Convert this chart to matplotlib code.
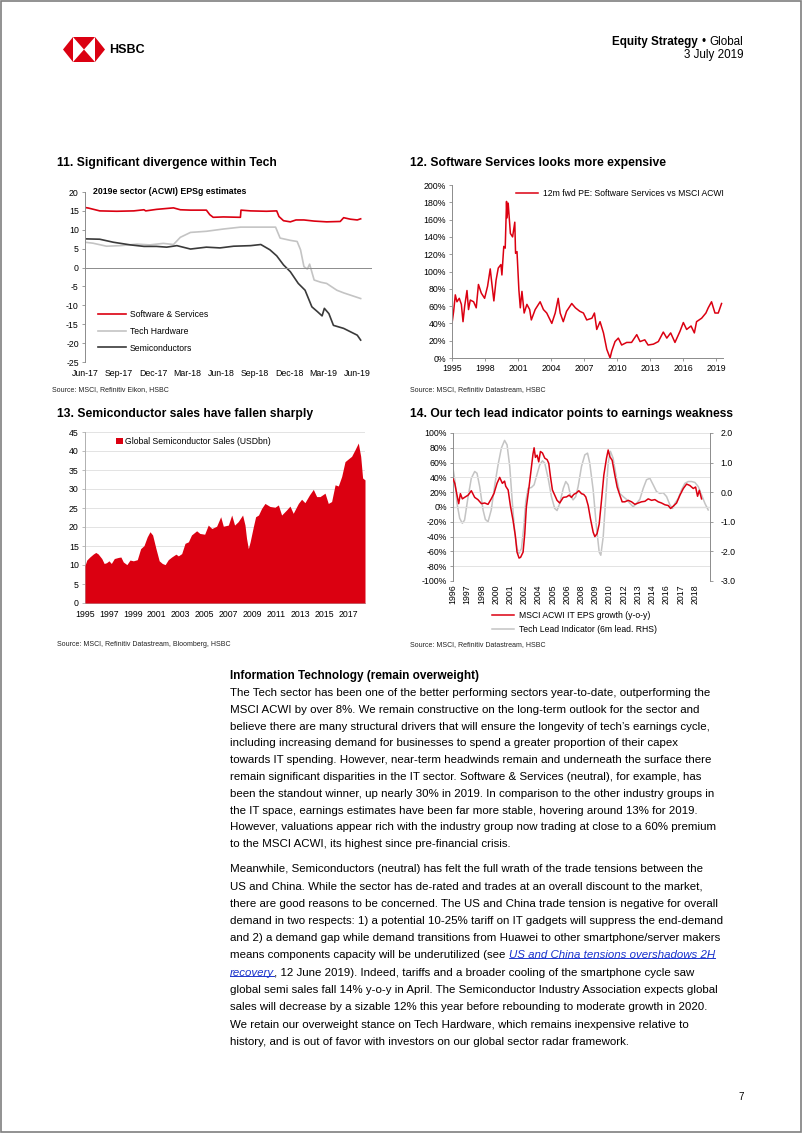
import matplotlib
matplotlib.use('Agg')
import matplotlib.pyplot as plt
from matplotlib.patches import Polygon, Rectangle
from matplotlib.lines import Line2D
from matplotlib.text import Annotation

W, H = 802, 1133
plt.rcParams['font.family'] = ['Liberation Sans', 'DejaVu Sans']
plt.rcParams['axes.linewidth'] = 0.7
plt.rcParams['axes.unicode_minus'] = False

RED = '#DB0011'
LGREY = '#C4C4C4'
DGREY = '#3A3A3A'
AXC = '#8C8C8C'
GRID = '#E3E3E3'

# ---- chart 11: 2019e EPSg estimates (months since Jun-17)
c11_ticks = ['Jun-17', 'Sep-17', 'Dec-17', 'Mar-18', 'Jun-18', 'Sep-18', 'Dec-18', 'Mar-19', 'Jun-19']
sw_x = [0, 0.3, 1.3, 2.8, 4.3, 5.2, 5.35, 6.3, 7.8, 8.4, 9.3, 10.7, 11.0, 11.3, 12.2, 13.7, 13.75,
        14.6, 16.0, 16.9, 17.1, 17.5, 18.1, 18.6, 19.3, 20.2, 21.3, 22.5, 22.8, 23.4, 24.0, 24.3]
sw_y = [15.9, 15.75, 15.0, 14.9, 15.0, 15.3, 15.0, 15.4, 15.8, 15.3, 15.2, 15.2, 14.0, 13.3, 13.4, 13.3, 15.2,
        15.0, 14.9, 15.0, 13.5, 12.4, 12.1, 12.6, 12.6, 12.3, 12.1, 12.2, 13.2, 12.8, 12.6, 12.9]
hw_x = [0, 0.7, 1.9, 3.1, 4.6, 5.7, 6.9, 7.8, 8.4, 9.3, 10.7, 12.2, 13.7, 15.2, 16.8, 17.2, 18.1, 18.7,
        19.0, 19.3, 19.6, 19.8, 20.2, 20.8, 21.3, 22.2, 22.8, 23.4, 24.3]
hw_y = [6.7, 6.45, 5.65, 5.8, 6.2, 6.0, 6.4, 6.1, 8.0, 9.3, 9.6, 10.2, 10.7, 10.7, 10.7, 7.8, 7.2, 6.9,
        4.7, 0.25, -0.4, 0.9, -3.3, -3.9, -4.2, -6.0, -6.7, -7.3, -8.2]
sc_x = [0, 1.3, 2.5, 4.0, 5.2, 6.3, 7.2, 8.1, 9.3, 10.7, 11.9, 13.1, 14.6, 15.5, 16.3, 16.9, 17.5, 18.1,
        18.8, 19.4, 20.0, 20.5, 20.9, 21.1, 21.5, 21.9, 22.8, 23.4, 24.0, 24.3]
sc_y = [7.6, 7.5, 6.7, 6.0, 5.6, 5.6, 5.4, 5.8, 4.9, 5.4, 5.2, 5.65, 5.8, 6.1, 4.7, 3.1, 0.7, -1.1,
        -4.2, -6.0, -10.4, -11.7, -12.8, -10.8, -12.2, -15.3, -16.1, -17.0, -17.9, -19.2]

# ---- chart 12: 12m fwd PE relative (%)
pe_x = [1995.0, 1995.15, 1995.3, 1995.45, 1995.66, 1995.85, 1996.0, 1996.15, 1996.36, 1996.5, 1996.66,
        1996.96, 1997.2, 1997.4, 1997.66, 1997.96, 1998.23, 1998.47, 1998.6, 1998.8, 1999.0, 1999.2,
        1999.44, 1999.53, 1999.7, 1999.83, 1999.95, 2000.0, 2000.1, 2000.3, 2000.5, 2000.7, 2000.77,
        2000.9, 2001.07, 2001.2, 2001.35, 2001.55, 2001.8, 2002.05, 2002.2, 2002.55, 2003.0, 2003.3,
        2003.6, 2004.06, 2004.37, 2004.64, 2004.82, 2005.1, 2005.4, 2005.87, 2006.2, 2006.6, 2006.93,
        2007.23, 2007.7, 2007.93, 2008.14, 2008.44, 2008.75, 2009.05, 2009.35, 2009.5, 2009.8, 2010.1,
        2010.4, 2010.86, 2011.3, 2011.77, 2012.07, 2012.5, 2012.8, 2013.28, 2013.73, 2014.18, 2014.5,
        2014.85, 2015.24, 2015.7, 2016.0, 2016.3, 2016.7, 2017.0, 2017.2, 2017.66, 2018.05, 2018.26,
        2018.56, 2018.87, 2019.17, 2019.47]
pe_y = [40, 54, 73, 65, 69, 62, 42, 60, 78, 56, 67, 65, 58, 85, 75, 69, 83, 103, 88, 66, 90, 104,
        108, 96, 129, 127, 181, 162, 179, 144, 140, 157, 121, 123, 79, 58, 77, 52, 62, 56, 44, 56, 65,
        56, 52, 40, 52, 69, 52, 42, 54, 63, 58, 54, 52, 44, 46, 52, 33, 42, 29, 10, 0, 8, 19, 23, 15,
        18, 18, 27, 19, 21, 15, 16, 19, 30, 23, 29, 18, 31, 41, 33, 37, 29, 42, 46, 52, 58, 65, 52, 52, 63]

# ---- chart 13: Global semiconductor sales (USDbn)
semi_x = [1995.0, 1995.15, 1995.4, 1995.7, 1995.9, 1996.1, 1996.4, 1996.6, 1996.8, 1997.0, 1997.2,
          1997.45, 1997.8, 1998.0, 1998.2, 1998.5, 1998.76, 1999.04, 1999.37, 1999.65, 1999.93, 2000.2,
          2000.43, 2000.65, 2000.93, 2001.2, 2001.46, 2001.7, 2001.96, 2002.24, 2002.6, 2002.8, 2003.08,
          2003.36, 2003.64, 2003.9, 2004.33, 2004.6, 2005.0, 2005.3, 2005.6, 2006.0, 2006.34, 2006.56,
          2006.98, 2007.26, 2007.5, 2007.8, 2008.17, 2008.37, 2008.5, 2008.65, 2008.8, 2009.07, 2009.26,
          2009.5, 2009.76, 2010.04, 2010.46, 2010.88, 2011.16, 2011.43, 2011.85, 2012.13, 2012.4,
          2012.83, 2013.1, 2013.38, 2013.75, 2014.08, 2014.36, 2014.64, 2015.06, 2015.33, 2015.61,
          2015.9, 2016.17, 2016.45, 2016.73, 2017.0, 2017.28, 2017.56, 2017.84, 2018.04, 2018.2, 2018.4]
semi_y = [9.9, 11.3, 12.1, 12.9, 13.3, 12.9, 11.7, 10.4, 10.6, 11.1, 10.4, 11.7, 12.0, 12.1, 10.8,
          10.1, 11.3, 11.1, 11.4, 14.3, 15.1, 17.4, 18.75, 17.9, 14.3, 11.1, 10.4, 10.1, 11.4, 12.1,
          12.85, 12.4, 13.0, 15.7, 16.1, 17.9, 19.0, 18.3, 18.1, 20.5, 19.6, 20.2, 22.7, 20.2, 20.5,
          23.15, 20.5, 21.4, 23.15, 20.5, 17.0, 14.3, 16.1, 20.1, 22.7, 23.15, 24.9, 26.2, 25.4, 25.2,
          25.8, 23.15, 24.5, 25.5, 23.6, 26.2, 27.3, 26.4, 28.4, 29.9, 28.0, 28.0, 28.9, 26.2, 26.7,
          31.1, 30.8, 33.3, 37.2, 37.9, 38.6, 40.3, 42.1, 38.6, 32.9, 32.4]

# ---- chart 14: months since Jan-1996
c14_labels = ['1996', '1997', '1998', '2000', '2001', '2002', '2004', '2005', '2006', '2008', '2009',
              '2010', '2012', '2013', '2014', '2016', '2017', '2018']
eps_t = [0, 2, 4.5, 6.4, 8.3, 10.5, 13, 17, 20.6, 24.4, 28, 32, 35.6, 39.4, 43, 46, 49.5, 52.5, 55.5,
         58, 59.3, 62, 64.5, 67.5, 70, 72, 74.3, 76, 78.8, 80.7, 82.5, 85.5, 88.2, 90, 91.2, 92.7, 94.6,
         96.4, 98.3, 100.6, 103.2, 105.8, 107.7, 109.6, 111.8, 114.4, 117, 120, 124, 127.6, 130.6,
         133.2, 135.8, 138.8, 141.5, 144.5, 147, 149.3, 152, 154.6, 157.6, 159.5, 162, 164.4, 167,
         169.6, 172.6, 174.5, 176.4, 179, 182, 184.6, 187.6, 190.2, 193.2, 197, 200.8, 204.5, 208.3,
         212, 215.8, 219.5, 223.3, 227, 230.8, 234.5, 238.3, 242, 244.7, 247.6, 251.4, 255.2, 259,
         262.7, 266.4, 270.2, 272.8, 275, 277, 279.5]
eps_y = [38, 32, 16, 4.5, 18, 11, 13, 16, 22, 13, 10, 4.5, 5.4, 3.6, 11, 18, 32, 40, 32, 35, 28, 23,
         2, -18, -38, -61, -69, -68, -61, -36, 0, 27, 54, 72, 80, 67, 70, 61, 75, 73, 66, 64, 59, 41,
         23, 16, 9, 5.4, 13, 13.6, 16, 13, 17, 19, 22, 18, 17, 13.6, 2, -16, -34, -40, -36, -23, 9,
         43, 66, 77, 68, 63, 43, 27, 16, 7, 7, 9, 7, 3.6, 5.4, 7, 7.7, 11, 9, 10, 7, 5.4, 3, 2, -2,
         1, 5.4, 16, 25, 31, 29, 25, 27, 14.5, 22.6, 11]
lead_t = [0, 2, 4.5, 7.5, 10.5, 13, 17, 20.6, 24.4, 27, 30, 33.8, 36.4, 39.4, 43, 47, 50.7, 54.4, 58,
          60.8, 63.8, 66.8, 69.4, 72, 74.3, 77, 79.6, 81.8, 84.4, 88.2, 91.2, 93.8, 97.6, 100.6, 103.2,
          107, 110.7, 114.4, 117, 120, 124, 126.8, 129.5, 132, 135, 138, 140.7, 144.5, 148.2, 151.3,
          153.8, 157.6, 161.3, 164.4, 166.2, 168.9, 171.9, 174.5, 177, 180, 183.9, 187.6, 191.4, 195,
          199, 202.6, 206.4, 210.1, 213.9, 217.6, 221.4, 225.1, 228.9, 232.6, 236.4, 240.2, 243.9,
          246.9, 249.5, 253.3, 257, 260.8, 264.5, 268.3, 272, 275.8, 279.5, 283.3, 287]
lead_y = [0.81, 0.42, -0.38, -0.88, -1.05, -0.94, -0.15, 0.47, 0.70, 0.64, 0.19, -0.60, -0.92, -1.0,
          -0.6, 0.25, 0.93, 1.49, 1.75, 1.6, 0.87, -0.38, -1.34, -1.90, -2.07, -1.90, -1.17, -0.32, 0.13,
          0.16, 0.25, 0.53, 0.93, 1.06, 0.98, 0.47, -0.15, -0.55, -0.62, -0.38, 0.13, 0.36, 0.25, -0.09,
          -0.26, -0.15, 0.19, 0.87, 1.26, 1.32, 0.98, 0.08, -1.17, -2.02, -2.13, -1.51, -0.15, 0.98,
          1.38, 1.15, 0.47, -0.04, -0.15, -0.24, -0.38, -0.49, -0.38, -0.24, 0.13, 0.42, 0.47, 0.25,
          0.02, -0.04, -0.02, -0.15, -0.43, -0.55, -0.38, -0.21, 0.08, 0.30, 0.36, 0.36, 0.33, 0.19,
          -0.09, -0.38, -0.60]

para1 = [
    "The Tech sector has been one of the better performing sectors year-to-date, outperforming the",
    "MSCI ACWI by over 8%. We remain constructive on the long-term outlook for the sector and",
    "believe there are many structural drivers that will ensure the longevity of tech\u2019s earnings cycle,",
    "including increasing demand for businesses to spend a greater proportion of their capex",
    "towards IT spending. However, near-term headwinds remain and underneath the surface there",
    "remain significant disparities in the IT sector. Software & Services (neutral), for example, has",
    "been the standout winner, up nearly 30% in 2019. In comparison to the other industry groups in",
    "the IT space, earnings estimates have been far more stable, hovering around 13% for 2019.",
    "However, valuations appear rich with the industry group now trading at close to a 60% premium",
    "to the MSCI ACWI, its highest since pre-financial crisis.",
]
para2 = [
    "Meanwhile, Semiconductors (neutral) has felt the full wrath of the trade tensions between the",
    "US and China. While the sector has de-rated and trades at an overall discount to the market,",
    "there are good reasons to be concerned. The US and China trade tension is negative for overall",
    "demand in two respects: 1) a potential 10-25% tariff on IT gadgets will suppress the end-demand",
    "and 2) a demand gap while demand transitions from Huawei to other smartphone/server makers",
    [("means components capacity will be underutilized (see ", False),
     ("US and China tensions overshadows 2H", True)],
    [("recovery", True),
     (", 12 June 2019). Indeed, tariffs and a broader cooling of the smartphone cycle saw", False)],
    "global semi sales fall 14% y-o-y in April. The Semiconductor Industry Association expects global",
    "sales will decrease by a sizable 12% this year before rebounding to moderate growth in 2020.",
    "We retain our overweight stance on Tech Hardware, which remains inexpensive relative to",
    "history, and is out of favor with investors on our global sector radar framework.",
]


def rect(l, t, r, b):
    return [l / W, 1 - b / H, (r - l) / W, (b - t) / H]


def fx(x):
    return x / W


def fy(y):
    return 1 - y / H


fig = plt.figure(figsize=(W / 100, H / 100), dpi=100)
TICK = 6.3

# page frame
fig.patches.append(Rectangle((0.5 / W, 1 - 1131.5 / H), 800 / W, 1131 / H, transform=fig.transFigure,
                             fill=False, edgecolor='#7F7F7F', linewidth=1.2))

# HSBC logo
def P(pts):
    return [(fx(a), fy(b)) for a, b in pts]
for pts in ([(63, 49.5), (73, 37), (73, 62)], [(105, 49.5), (95, 37), (95, 62)],
            [(73, 37), (95, 37), (84, 49.5)], [(73, 62), (95, 62), (84, 49.5)]):
    fig.patches.append(Polygon(P(pts), closed=True, transform=fig.transFigure, facecolor=RED,
                               edgecolor='none'))
fig.text(fx(109), fy(50), 'HSBC', fontsize=9.0, fontweight='bold', va='center', ha='left')

# header
g = fig.text(fx(743), fy(42), 'Global', fontsize=8.4, ha='right', va='center')
b = fig.add_artist(Annotation('\u2022', xy=(0, 0), xycoords=g, xytext=(-2.5, 0),
                              textcoords='offset points', ha='right', va='bottom', fontsize=8.4))
fig.add_artist(Annotation('Equity Strategy', xy=(0, 0), xycoords=b, xytext=(-2.5, 0),
                          textcoords='offset points', ha='right', va='bottom', fontsize=8.4,
                          fontweight='bold'))
fig.text(fx(743), fy(55), '3 July 2019', fontsize=8.4, ha='right', va='center')

TITLE = dict(fontsize=8.7, fontweight='bold', va='center', ha='left')
SRC = dict(fontsize=5.0, va='center', ha='left', color='#222222')


def style(ax, left_color=AXC):
    for s in ['top', 'right', 'bottom']:
        ax.spines[s].set_visible(False)
    ax.spines['left'].set_color(left_color)
    ax.tick_params(axis='y', length=2.5, width=0.6, color=left_color, labelsize=TICK, pad=2)
    ax.tick_params(axis='x', length=0, labelsize=TICK, pad=5)


# ---------------- chart 11
fig.text(fx(57), fy(163), '11. Significant divergence within Tech', **TITLE)
ax = fig.add_axes(rect(85, 192, 372, 362))
ax.plot(hw_x, hw_y, color=LGREY, lw=1.2, label='Tech Hardware')
ax.plot(sc_x, sc_y, color=DGREY, lw=1.2, label='Semiconductors')
ax.plot(sw_x, sw_y, color=RED, lw=1.2, label='Software & Services')
ax.axhline(0, color=AXC, lw=0.7)
ax.set_xlim(0, 25.3)
ax.set_ylim(-25, 20)
ax.set_yticks(range(-25, 21, 5))
ax.set_xticks(range(0, 25, 3))
ax.set_xticklabels(c11_ticks)
style(ax)
fig.text(fx(93), fy(191), '2019e sector (ACWI) EPSg estimates', fontsize=6.3, fontweight='bold',
         va='center')
h, l = ax.get_legend_handles_labels()
ax.legend([h[2], h[0], h[1]], [l[2], l[0], l[1]], loc='upper left',
          bbox_to_anchor=(fx(98), fy(310)), bbox_transform=fig.transFigure, frameon=False,
          fontsize=6.2, handlelength=3.2, handletextpad=0.5, labelspacing=0.9, borderpad=0,
          borderaxespad=0)
fig.text(fx(52), fy(390), 'Source: MSCI, Refinitiv Eikon, HSBC', **SRC)

# ---------------- chart 12
fig.text(fx(410), fy(163), '12. Software Services looks more expensive', **TITLE)
ax = fig.add_axes(rect(452, 185, 723, 358))
ax.plot(pe_x, pe_y, color=RED, lw=1.1, label='12m fwd PE: Software Services vs MSCI ACWI')
ax.set_xlim(1995, 2019.6)
ax.set_ylim(0, 200)
ax.set_yticks(range(0, 201, 20))
ax.set_yticklabels([f'{v}%' for v in range(0, 201, 20)])
ax.set_xticks(range(1995, 2020, 3))
style(ax)
ax.spines['bottom'].set_visible(True)
ax.spines['bottom'].set_color(AXC)
ax.tick_params(axis='x', length=2.5, width=0.6, color=AXC, pad=1.5)
ax.legend(loc='upper left', bbox_to_anchor=(fx(516), fy(189)), bbox_transform=fig.transFigure,
          frameon=False, fontsize=6.2, handlelength=2.6, handletextpad=0.5, borderpad=0,
          borderaxespad=0)
fig.text(fx(410), fy(390), 'Source: MSCI, Refinitiv Datastream, HSBC', **SRC)

# ---------------- chart 13
fig.text(fx(57), fy(414), '13. Semiconductor sales have fallen sharply', **TITLE)
ax = fig.add_axes(rect(85, 432, 365, 603))
ax.fill_between(semi_x, semi_y, 0, color=RED, lw=0, label='Global Semiconductor Sales (USDbn)',
                zorder=3)
ax.set_xlim(1995, 2018.4)
ax.set_ylim(0, 45)
ax.set_yticks(range(0, 46, 5))
ax.set_xticks(range(1995, 2018, 2))
ax.yaxis.grid(True, color=GRID, lw=0.7)
ax.set_axisbelow(True)
style(ax, left_color='#B0B0B0')
ax.spines['bottom'].set_visible(True)
ax.spines['bottom'].set_color('#B0B0B0')
ax.legend(loc='upper left', bbox_to_anchor=(fx(116), fy(437)), bbox_transform=fig.transFigure,
          frameon=False, fontsize=6.2, handlelength=0.8, handleheight=0.8, handletextpad=0.3,
          borderpad=0, borderaxespad=0)
fig.text(fx(57), fy(645), 'Source: MSCI, Refinitiv Datastream, Bloomberg, HSBC', **SRC)

# ---------------- chart 14
fig.text(fx(410), fy(414), '14. Our tech lead indicator points to earnings weakness', **TITLE)
ax = fig.add_axes(rect(453, 433, 710, 581))
ax2 = ax.twinx()
l1, = ax.plot(eps_t, eps_y, color=RED, lw=1.1, zorder=3)
l2, = ax2.plot(lead_t, lead_y, color=LGREY, lw=1.1, zorder=2)
ax.set_zorder(ax2.get_zorder() + 1)
ax.patch.set_visible(False)
ax.set_xlim(0, 289)
ax.set_ylim(-100, 100)
ax2.set_ylim(-3, 2)
ax.set_yticks(range(-100, 101, 20))
ax.set_yticklabels([f'{v}%' for v in range(-100, 101, 20)])
ax2.set_yticks(range(-3, 3))
ax2.set_yticklabels([f'{v:.1f}' for v in range(-3, 3)])
ax.set_xticks(range(0, 273, 16))
ax.set_xticklabels(c14_labels, rotation=90)
ax.yaxis.grid(True, color=GRID, lw=0.7)
ax.axhline(0, color='#6E6E6E', lw=0.8, zorder=1)
style(ax)
for s in ['top', 'left', 'bottom']:
    ax2.spines[s].set_visible(False)
ax2.spines['right'].set_color(AXC)
ax2.tick_params(axis='y', length=2.5, width=0.6, color=AXC, labelsize=TICK, pad=5)
ax.tick_params(axis='x', pad=2.5)
fig.legend([l1, l2], ['MSCI ACWI IT EPS growth (y-o-y)', 'Tech Lead Indicator (6m lead. RHS)'],
           loc='upper left', bbox_to_anchor=(fx(492), fy(611)), frameon=False, fontsize=6.2,
           handlelength=2.6, handletextpad=0.5, labelspacing=0.55, borderpad=0, borderaxespad=0)
fig.text(fx(410), fy(645), 'Source: MSCI, Refinitiv Datastream, HSBC', **SRC)

# ---------------- body text
BODY = 8.25
fig.text(fx(230), fy(679), 'Information Technology (remain overweight)', fontsize=8.45,
         fontweight='bold', va='baseline')
links = []
y = 696
for line in para1:
    fig.text(fx(230), fy(y), line, fontsize=BODY, va='baseline')
    y += 16.8
y = 872
for line in para2:
    if isinstance(line, str):
        fig.text(fx(230), fy(y), line, fontsize=BODY, va='baseline')
    else:
        prev = None
        for txt, is_link in line:
            kw = dict(fontsize=BODY, color='#1A33CC' if is_link else 'black',
                      fontstyle='italic' if is_link else 'normal')
            if prev is None:
                t = fig.text(fx(230), fy(y), txt, va='baseline', **kw)
            else:
                t = fig.add_artist(Annotation(txt, xy=(1, 0), xycoords=prev, va='bottom', ha='left',
                                              **kw))
            if is_link:
                links.append(t)
            prev = t
    y += 17.3

fig.text(fx(741), fy(1097), '7', fontsize=7, ha='center', va='center')

fig.canvas.draw()
r = fig.canvas.get_renderer()
for t in links:
    bb = t.get_window_extent(r)
    yy = bb.y0 + 2.2
    fig.add_artist(Line2D([bb.x0 / W, bb.x1 / W], [yy / H, yy / H], transform=fig.transFigure,
                          color='#1A33CC', lw=0.7))

fig.savefig('out.png', dpi=100)
